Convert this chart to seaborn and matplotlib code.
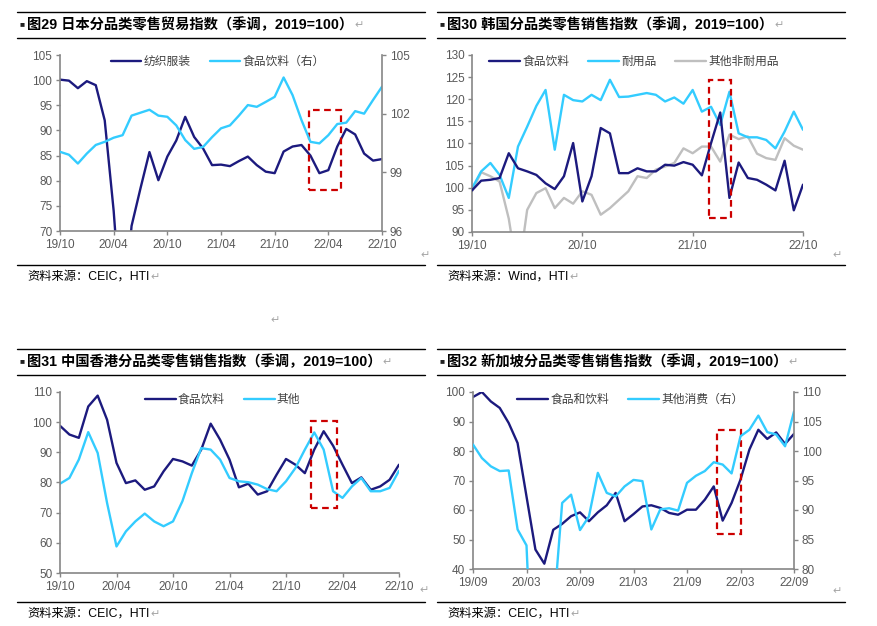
import numpy as np
import pandas as pd
import seaborn as sns
import matplotlib.pyplot as plt
from matplotlib.lines import Line2D
from matplotlib.patches import Rectangle

sns.set_style("ticks")
plt.rcParams['font.family'] = ['Liberation Sans', 'Noto Sans CJK SC', 'DejaVu Sans']
plt.rcParams['axes.unicode_minus'] = False

W, H = 877, 626
NAVY = '#1c1a7e'
CYAN = '#33ccff'
GRAY = '#bfbfbf'
RED = '#cc0000'
AXC = '#868686'
TXT = '#595959'
RET = '#a6a6a6'

# monthly index, 37 months per panel
months = np.arange(37)

# fig 29 Japan, 2019/10 - 2022/10
jp_ticks = ['19/10', '20/04', '20/10', '21/04', '21/10', '22/04', '22/10']
jp_textile = [100.1, 99.9, 98.4, 99.8, 99.0, 92.0, 74.0, 50.0, 71.0, 78.5,
              85.7, 80.1, 84.8, 88.0, 92.7, 88.7, 86.4, 83.1, 83.2, 82.9,
              83.9, 84.8, 83.1, 81.8, 81.5, 85.8, 86.8, 87.1, 85.0, 81.5,
              82.1, 86.8, 90.3, 89.2, 85.4, 84.0, 84.3]
jp_food = [100.05, 99.9, 99.45, 99.96, 100.4, 100.56, 100.77, 100.9, 101.9, 102.05,
           102.2, 101.9, 101.84, 101.4, 100.65, 100.2, 100.3, 100.8, 101.25, 101.4,
           101.9, 102.44, 102.35, 102.6, 102.86, 103.85, 102.95, 101.67, 100.56, 100.48,
           100.9, 101.47, 101.54, 102.13, 102.0, 102.7, 103.38]

# fig 30 Korea
kr_ticks = ['19/10', '20/10', '21/10', '22/10']
kr_food = [99.4, 101.6, 101.8, 102.2, 107.8, 104.4, 103.7, 102.9, 101.0, 99.7,
           102.6, 110.1, 96.9, 102.6, 113.5, 112.3, 103.3, 103.3, 104.4, 103.7,
           103.7, 105.2, 105.0, 105.8, 105.2, 102.8, 110.1, 117.0, 97.7, 105.7,
           102.2, 101.8, 100.7, 99.4, 106.1, 94.9, 100.7]
kr_durable = [99.9, 103.7, 105.6, 102.9, 97.7, 109.3, 113.8, 118.5, 122.1, 108.6,
              121.0, 119.8, 119.5, 121.0, 119.8, 124.4, 120.5, 120.6, 121.0, 121.4,
              121.0, 119.5, 120.4, 119.0, 122.1, 117.2, 118.3, 114.2, 121.7, 112.3,
              111.4, 111.4, 110.8, 108.9, 112.7, 117.2, 113.1]
kr_other = [99.2, 103.5, 102.6, 101.4, 93.0, 80.0, 95.0, 98.8, 99.9, 95.4,
            97.7, 96.4, 99.2, 98.4, 93.9, 95.4, 97.3, 99.2, 102.6, 102.2,
            104.1, 104.8, 105.6, 108.9, 107.8, 109.3, 109.3, 105.9, 112.0, 111.0,
            111.6, 107.7, 106.7, 106.3, 111.2, 109.5, 108.6]

# fig 31 Hong Kong
hk_ticks = ['19/10', '20/04', '20/10', '21/04', '21/10', '22/04', '22/10']
hk_food = [98.8, 95.9, 94.8, 105.2, 108.8, 100.8, 86.5, 79.8, 80.7, 77.6,
           78.7, 83.7, 87.8, 87.0, 85.6, 90.9, 99.5, 94.2, 87.6, 78.4,
           79.6, 76.0, 77.1, 82.6, 87.8, 85.9, 83.1, 90.9, 97.0, 92.2,
           85.9, 79.8, 81.7, 77.6, 78.7, 80.9, 85.9]
hk_other = [79.6, 81.5, 87.6, 96.7, 89.8, 73.2, 58.8, 63.8, 67.1, 69.7,
            67.1, 65.5, 67.1, 73.8, 83.1, 91.4, 90.9, 87.6, 81.5, 80.4,
            80.1, 79.3, 77.8, 77.1, 80.4, 84.8, 90.9, 96.6, 90.9, 77.1,
            74.9, 78.7, 81.5, 77.1, 77.1, 78.2, 83.9]

# fig 32 Singapore, 2019/09 - 2022/09
sg_ticks = ['19/09', '20/03', '20/09', '21/03', '21/09', '22/03', '22/09']
sg_food = [98.3, 100.0, 96.8, 94.6, 89.5, 82.7, 64.6, 46.6, 41.8, 53.3,
           55.3, 57.9, 59.2, 56.2, 59.2, 61.6, 65.8, 56.2, 58.6, 61.2,
           61.6, 60.7, 59.0, 58.4, 60.1, 60.1, 63.5, 68.0, 56.4, 62.4,
           70.3, 80.5, 87.2, 84.1, 86.3, 82.4, 85.8]
sg_other = [101.1, 98.8, 97.4, 96.6, 96.7, 86.7, 84.0, 50.0, 50.0, 72.0,
            91.2, 92.6, 86.6, 88.9, 96.3, 92.9, 92.3, 94.0, 95.1, 94.9,
            86.7, 90.1, 90.3, 89.9, 94.6, 95.8, 96.6, 98.1, 97.7, 96.2,
            102.5, 103.6, 106.0, 103.2, 102.8, 100.8, 106.7]

fig = plt.figure(figsize=(W / 100, H / 100), dpi=100)
fig.patch.set_facecolor('white')


def px_axes(l, t, r, b):
    return fig.add_axes([l / W, 1 - b / H, (r - l) / W, (b - t) / H])


def hline(y, x0, x1):
    fig.add_artist(Line2D([x0 / W, x1 / W], [1 - y / H, 1 - y / H],
                          color='black', lw=1, transform=fig.transFigure))


def ftext(x, y, s, **kw):
    return fig.text(x / W, 1 - y / H, s, va='center', ha='left', **kw)


def ret_after(t):
    # gray paragraph mark right after a text
    ax0.annotate('↵', xy=(1, 0.5), xycoords=t, xytext=(1, 0), textcoords='offset points',
                 va='center', ha='left', fontsize=8, color=RET, family=['DejaVu Sans'],
                 annotation_clip=False)


def style(ax, ylim, step, labels, every):
    ax.set_xlim(0, 36)
    ax.set_ylim(*ylim)
    ax.set_yticks(np.arange(ylim[0], ylim[1] + 0.1, step))
    ax.set_xticks(np.arange(0, 37, every))
    ax.set_xticklabels(labels)
    for s in ['top', 'right']:
        ax.spines[s].set_visible(False)
    for s in ['left', 'bottom']:
        ax.spines[s].set_color(AXC)
        ax.spines[s].set_linewidth(1.2)
    ax.tick_params(length=3, width=1, color=AXC, labelcolor=TXT, labelsize=8.5, pad=2.5)
    ax.set_xlabel('')
    ax.set_ylabel('')


def right_axis(ax2, ylim, step):
    ax2.set_ylim(*ylim)
    ax2.set_yticks(np.arange(ylim[0], ylim[1] + 0.1, step))
    for s in ['top', 'left', 'bottom']:
        ax2.spines[s].set_visible(False)
    ax2.spines['right'].set_color(AXC)
    ax2.spines['right'].set_linewidth(1.2)
    ax2.tick_params(length=3, width=1, color=AXC, labelcolor=TXT, labelsize=8.5, pad=2.5)
    ax2.set_ylabel('')


def draw(ax, y, color, label):
    sns.lineplot(x=months, y=y, ax=ax, color=color, lw=1.7, legend=False)
    line = ax.lines[-1]
    line.set_label(label)
    return line


def box(ax, x0, x1, y0, y1):
    ax.add_patch(Rectangle((x0, y0), x1 - x0, y1 - y0, fill=False, edgecolor=RED,
                           lw=1.6, linestyle=(0, (3, 2)), zorder=5, clip_on=False))


def legend(ax, handles, x, y):
    ax.legend(handles=handles, loc='center', bbox_to_anchor=(x, y), ncol=len(handles),
              frameon=False, fontsize=8.5, handlelength=2.6, handletextpad=0.2,
              columnspacing=1.6, labelcolor='#404040')


# ---- fig 29
ax = px_axes(60, 55, 382, 231)
ax0 = ax
h1 = draw(ax, jp_textile, NAVY, '纺织服装')
style(ax, (70, 105), 5, jp_ticks, 6)
ax2 = ax.twinx()
h2 = draw(ax2, jp_food, CYAN, '食品饮料（右）')
right_axis(ax2, (96, 105), 3)
box(ax, 27.8, 31.4, 78.1, 94.0)
legend(ax2, [h1, h2], 0.49, 0.96)

# ---- fig 30
ax = px_axes(472, 55, 803, 232)
h1 = draw(ax, kr_food, NAVY, '食品饮料')
h2 = draw(ax, kr_durable, CYAN, '耐用品')
h3 = draw(ax, kr_other, GRAY, '其他非耐用品')
h1.set_zorder(3)
h2.set_zorder(2.5)
h3.set_zorder(2)
style(ax, (90, 130), 5, kr_ticks, 12)
box(ax, 25.8, 28.2, 93.2, 124.4)
legend(ax, [h1, h2, h3], 0.49, 0.96)

# ---- fig 31
ax = px_axes(60, 392, 399, 573)
h1 = draw(ax, hk_food, NAVY, '食品饮料')
h2 = draw(ax, hk_other, CYAN, '其他')
style(ax, (50, 110), 10, hk_ticks, 6)
box(ax, 26.7, 29.4, 71.5, 100.3)
legend(ax, [h1, h2], 0.48, 0.956)

# ---- fig 32
ax = px_axes(473, 392, 794, 569)
h1 = draw(ax, sg_food, NAVY, '食品和饮料')
style(ax, (40, 100), 10, sg_ticks, 6)
ax2 = ax.twinx()
h2 = draw(ax2, sg_other, CYAN, '其他消费（右）')
right_axis(ax2, (80, 110), 5)
box(ax, 27.35, 30.0, 52.0, 87.2)
legend(ax2, [h1, h2], 0.49, 0.955)

# ---- frames, titles, sources
titles = ['图29 日本分品类零售贸易指数（季调，2019=100）',
          '图30 韩国分品类零售销售指数（季调，2019=100）',
          '图31 中国香港分品类零售销售指数（季调，2019=100）',
          '图32 新加坡分品类零售销售指数（季调，2019=100）']
sources = ['资料来源：CEIC，HTI', '资料来源：Wind，HTI',
           '资料来源：CEIC，HTI', '资料来源：CEIC，HTI']
frames = [(17, 425, 0), (437, 845, 0), (17, 425, 337), (437, 845, 337)]
for (x0, x1, dy), t, s in zip(frames, titles, sources):
    hline(12 + dy, x0, x1)
    hline(38 + dy, x0, x1)
    hline(265 + dy, x0, x1)
    ftext(x0 + 2, 25 + dy, '■', fontsize=6, color='#222222')
    tt = ftext(x0 + 10, 25 + dy, t, fontsize=10.3, fontweight='bold', color='black')
    st = ftext(x0 + 10, 277 + dy, s, fontsize=8.8, color='black')
    ret_after(tt)
    ret_after(st)

for x, y in [(420, 255), (832, 255), (419, 590), (832, 591), (270, 320)]:
    ftext(x, y, '↵', fontsize=8, color=RET, family=['DejaVu Sans'])

fig.savefig('out.png', dpi=100)
